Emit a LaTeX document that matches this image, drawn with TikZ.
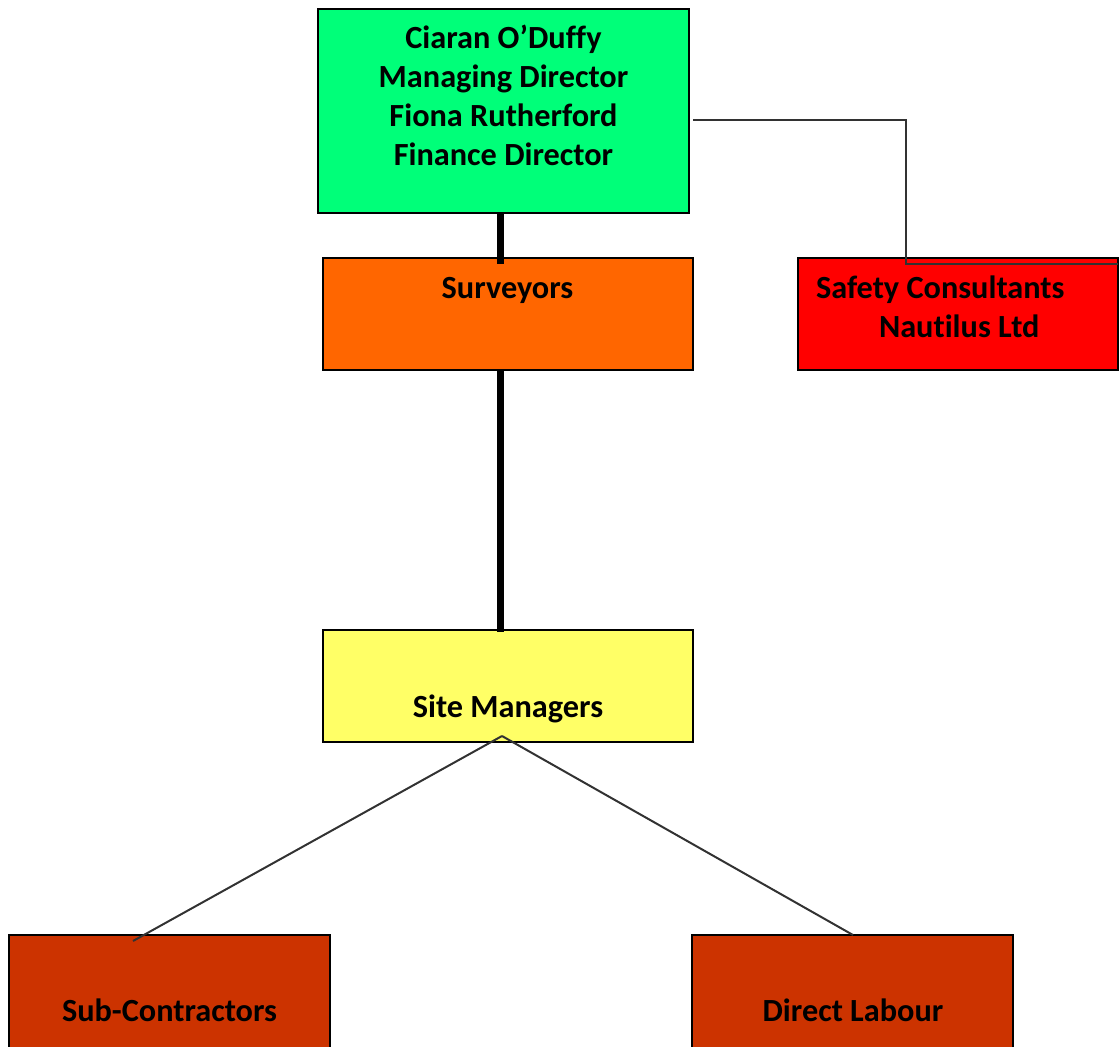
\documentclass[tikz,border=0pt]{standalone}
\usepackage{fontspec}
\setmainfont[Ligatures=NoCommon]{Carlito}
\definecolor{mdgreen}{RGB}{0,255,121}
\definecolor{survorange}{RGB}{255,102,0}
\definecolor{safered}{RGB}{255,0,0}
\definecolor{siteyellow}{RGB}{255,255,102}
\definecolor{labourred}{RGB}{204,51,0}
\definecolor{linegray}{RGB}{50,50,50}
\tikzset{
  box/.style={draw=black, line width=2pt, rectangle, inner sep=0pt, outer sep=0pt},
  label text/.style={font=\bfseries\fontsize{32.3}{39}\selectfont, inner sep=0pt, outer sep=0pt, text=black},
  heavy link/.style={draw=black, line width=7pt},
  light link/.style={draw=linegray, line width=2pt},
}
\begin{document}
\begin{tikzpicture}[x=1pt,y=-1pt]
\useasboundingbox (0,0) rectangle (1120,1047);
\clip (0,0) rectangle (1120,1047);
% boxes
\node[box, fill=mdgreen, minimum width=371pt, minimum height=204pt] (md) at (503.5,110.5) {};
\node[box, fill=survorange, minimum width=370pt, minimum height=112pt] (surv) at (508,314) {};
\node[box, fill=safered, minimum width=320pt, minimum height=112pt] (safety) at (958,314) {};
\node[box, fill=siteyellow, minimum width=370pt, minimum height=112pt] (site) at (508,686) {};
\node[box, fill=labourred, minimum width=321pt, minimum height=125pt] (sub) at (169.5,997.5) {};
\node[box, fill=labourred, minimum width=321pt, minimum height=125pt] (direct) at (852.5,997.5) {};
% texts
\node[label text, align=center] (mdtext) at (503.5,95) {Ciaran O’Duffy\\Managing Director\\Fiona Rutherford\\Finance Director};
\node[label text, anchor=base] (survtext) at (507.5,298.5) {Surveyors};
\node[label text, align=left, anchor=west] (safetytext) at (816,306.5) {Safety Consultants\\\hspace*{63pt}Nautilus Ltd};
\node[label text, anchor=base] (sitetext) at (508,717) {Site Managers};
\node[label text, anchor=base] (subtext) at (169.5,1021.5) {Sub-Contractors};
\node[label text, anchor=base] (directtext) at (853,1021.5) {Direct Labour};
% connectors
\draw[heavy link] ([xshift=-3.5pt]md.south) -- ([xshift=-8pt,yshift=-6pt]surv.north);
\draw[heavy link] ([xshift=-8pt]surv.south) -- ([xshift=-8pt,yshift=-2pt]site.north);
\draw[light link] ([xshift=4pt,yshift=-9.5pt]md.east) -| ([xshift=-52pt,yshift=-6pt]safety.north) -- ([yshift=-6pt]safety.north east);
\draw[light link] ([xshift=-6pt,yshift=6pt]site.south) -- ([xshift=-36.5pt,yshift=-6pt]sub.north);
\draw[light link] ([xshift=-6pt,yshift=6pt]site.south) -- ([xshift=0.5pt]direct.north);
\end{tikzpicture}
\end{document}
